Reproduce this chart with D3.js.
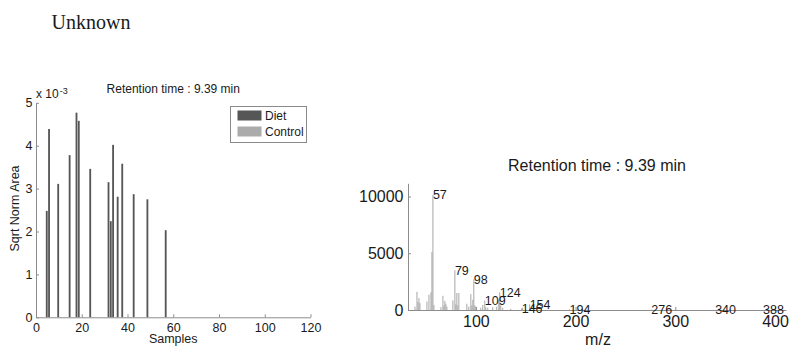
<!DOCTYPE html>
<html><head><meta charset="utf-8">
<script src="https://cdn.jsdelivr.net/npm/d3@7"></script>
<style>
html,body{margin:0;padding:0;background:#fff;}
svg{display:block;}
text{font-family:"Liberation Sans",Arial,Helvetica,sans-serif;fill:#1a1a1a;}
</style></head>
<body>
<script>
// ---- Left panel data (bar chart) ----
const sampleIds   = [5, 6, 10, 15, 18, 19, 24, 32, 33, 34, 36, 38, 43, 49, 57];
const dietValues  = [0.00248, 0.00439, 0.00311, 0.00378, 0.00477, 0.00458, 0.00346, 0.00315, 0.00224, 0.00402, 0.00281, 0.00358, 0.00287, 0.00275, 0.00203];
const controlIds    = [];
const controlValues = [];
const seriesNames = ["Diet", "Control"];
const leftXTicks  = [0, 20, 40, 60, 80, 100, 120];
const leftYTicks  = [0, 0.001, 0.002, 0.003, 0.004, 0.005];
const leftTitle   = "Retention time : 9.39 min";

// ---- Right panel data (mass spectrum) ----
const mzValues  = [39, 41, 42, 43, 44, 51, 53, 55, 56, 57, 58, 65, 67, 68, 69, 70, 71, 77, 79, 80, 81, 82, 83, 91, 93, 95, 96, 97, 98, 99, 100, 105, 107, 109, 110, 112, 117, 121, 123, 124, 125, 127, 135, 146, 147, 154, 155, 194, 276, 340, 388];
const intensity = [300, 1600, 700, 1050, 600, 750, 1350, 1550, 5100, 10150, 450, 250, 1250, 400, 800, 550, 300, 850, 3500, 500, 1500, 400, 1500, 550, 300, 1400, 400, 900, 2700, 400, 300, 200, 450, 850, 250, 200, 250, 300, 900, 1550, 400, 200, 100, 150, 200, 500, 100, 60, 25, 15, 15];
const labeledMz = [57, 79, 98, 109, 124, 146, 154, 194, 276, 340, 388];
const rightXTicks = [100, 200, 300, 400];
const rightYTicks = [0, 5000, 10000];
const rightTitle  = "Retention time : 9.39 min";
const pageTitle   = "Unknown";

const W = 792, H = 349;
const svg = d3.select("body").append("svg").attr("width", W).attr("height", H);
svg.append("rect").attr("width", W).attr("height", H).attr("fill", "#fff");

// Page title
svg.append("text").attr("x", 51.5).attr("y", 28.5)
  .style("font-family", "'Liberation Serif','Times New Roman',serif")
  .style("font-size", "20px").text(pageTitle);

const axisColor = "#8c8c8c";
function styleAxis(g, fs){
  g.select(".domain").attr("stroke", axisColor).attr("stroke-width", 1);
  g.selectAll(".tick line").attr("stroke", axisColor);
  g.selectAll(".tick text").attr("fill", "#1a1a1a")
    .style("font-family", "'Liberation Sans',Arial,sans-serif").style("font-size", fs);
}

// ===== Left panel =====
const lx = d3.scaleLinear().domain([0, 120]).range([36, 310.5]);
const ly = d3.scaleLinear().domain([0, 0.005]).range([317.3, 102.8]);
const barW = (lx(1) - lx(0)) * 0.8;
const dietColor = "#565656", controlColor = "#ababab";

const left = svg.append("g");
left.selectAll("rect.diet").data(sampleIds.map((s, i) => ({s, v: dietValues[i]})))
  .join("rect").attr("class", "diet")
  .attr("x", d => lx(d.s - 0.3) - barW / 2)
  .attr("y", d => ly(d.v))
  .attr("width", barW)
  .attr("height", d => ly(0) - ly(d.v))
  .attr("fill", dietColor);
left.selectAll("rect.ctrl").data(controlIds.map((s, i) => ({s, v: controlValues[i]})))
  .join("rect").attr("class", "ctrl")
  .attr("x", d => lx(d.s + 0.3) - barW / 2)
  .attr("y", d => ly(d.v))
  .attr("width", barW)
  .attr("height", d => ly(0) - ly(d.v))
  .attr("fill", controlColor);

const lxAxis = left.append("g").attr("transform", `translate(0,${ly(0)})`)
  .call(d3.axisBottom(lx).tickValues(leftXTicks).tickSizeInner(-3).tickSizeOuter(0).tickPadding(5.5).tickFormat(d3.format("d")));
styleAxis(lxAxis, "12.5px");
const lyAxis = left.append("g").attr("transform", `translate(${lx(0)},0)`)
  .call(d3.axisLeft(ly).tickValues(leftYTicks).tickSizeInner(-3).tickSizeOuter(0).tickPadding(3.5).tickFormat(d => d3.format("d")(Math.round(d * 1000))));
styleAxis(lyAxis, "12.5px");

// exponent label
const expo = left.append("text").attr("x", 36).attr("y", 98).style("font-size", "12px");
expo.append("tspan").text("x 10");
expo.append("tspan").attr("dy", -4.5).attr("dx", 1).style("font-size", "9px").text("-3");

left.append("text").attr("x", (lx(0) + lx(120)) / 2).attr("y", 92.5)
  .attr("text-anchor", "middle").style("font-size", "12px").text(leftTitle);
left.append("text").attr("x", (lx(0) + lx(120)) / 2).attr("y", 343)
  .attr("text-anchor", "middle").style("font-size", "12.5px").text("Samples");
left.append("text").attr("transform", `translate(19,208.5) rotate(-90)`)
  .attr("text-anchor", "middle").style("font-size", "12.5px").text("Sqrt Norm Area");

// legend
const lg = left.append("g");
lg.append("rect").attr("x", 230.5).attr("y", 106.5).attr("width", 76).attr("height", 36)
  .attr("fill", "#fff").attr("stroke", "#8a8a8a");
[dietColor, controlColor].forEach((c, i) => {
  lg.append("rect").attr("x", 237.5).attr("y", 110.5 + i * 16).attr("width", 24).attr("height", 10).attr("fill", c);
  lg.append("text").attr("x", 265).attr("y", 115.8 + i * 16).attr("dy", "0.35em")
    .style("font-size", "12px").text(seriesNames[i]);
});

// ===== Right panel =====
const rx = d3.scaleLinear().domain([32, 411]).range([408, 786]);
const ry = d3.scaleLinear().domain([0, 11165]).range([310, 183.3]);
const right = svg.append("g");
const peaks = mzValues.map((m, i) => ({m, v: intensity[i]}));
right.selectAll("line.peak").data(peaks).join("line").attr("class", "peak")
  .attr("x1", d => rx(d.m)).attr("x2", d => rx(d.m))
  .attr("y1", ry(0)).attr("y2", d => ry(d.v))
  .attr("stroke", "#a6a6a6").attr("stroke-width", 1);

const rxAxis = right.append("g").attr("transform", `translate(0,${ry(0)})`)
  .call(d3.axisBottom(rx).tickValues(rightXTicks).tickSizeInner(-3).tickSizeOuter(0).tickPadding(5.5).tickFormat(d3.format("d")));
styleAxis(rxAxis, "16px");
const ryAxis = right.append("g").attr("transform", `translate(${rx(32)},0)`)
  .call(d3.axisLeft(ry).tickValues(rightYTicks).tickSizeInner(-3).tickSizeOuter(0).tickPadding(4.5).tickFormat(d3.format("d")));
styleAxis(ryAxis, "16px");

right.selectAll("text.plab").data(peaks.filter(d => labeledMz.includes(d.m))).join("text").attr("class", "plab")
  .attr("x", d => rx(d.m)).attr("y", d => ry(d.v)).attr("dy", "0.35em")
  .style("font-size", "12.5px").text(d => d.m);

right.append("text").attr("x", (rx(32) + rx(411)) / 2).attr("y", 170.7)
  .attr("text-anchor", "middle").style("font-size", "16px").text(rightTitle);
right.append("text").attr("x", 598).attr("y", 344.5)
  .attr("text-anchor", "middle").style("font-size", "16px").text("m/z");
</script>
</body></html>
